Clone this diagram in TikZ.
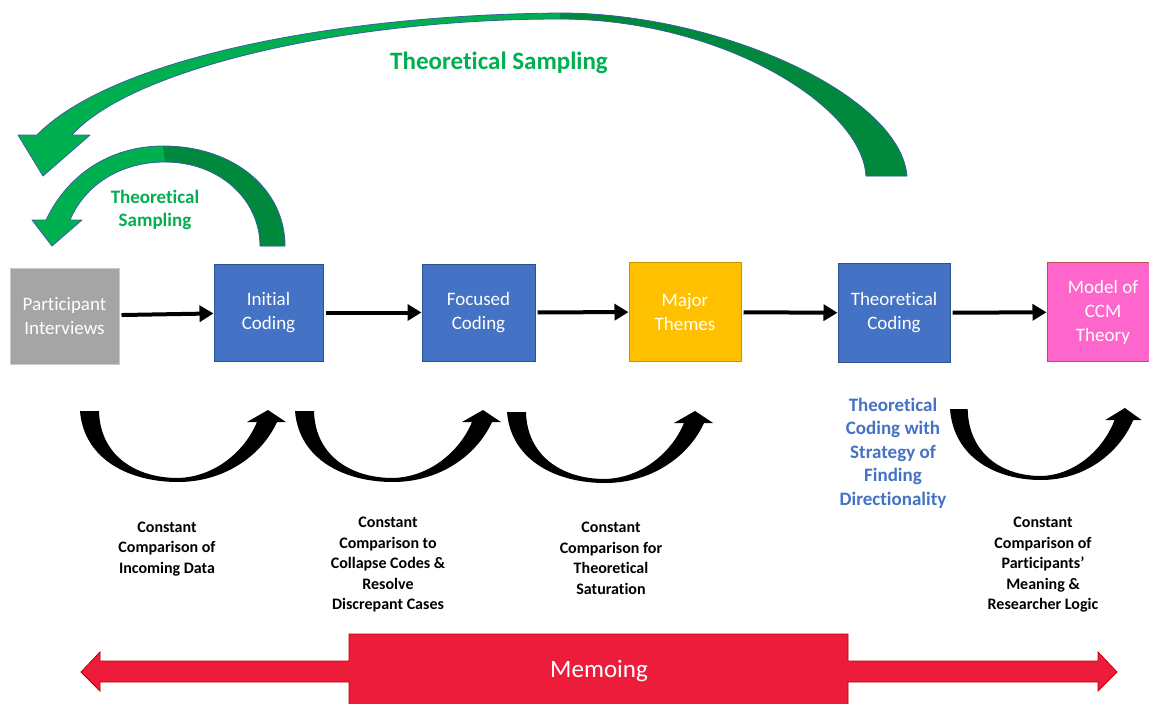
\documentclass[tikz,border=0pt]{standalone}
\usepackage{fontspec}
\setmainfont{Carlito}[Ligatures=NoCommon]
\usetikzlibrary{arrows.meta}
\definecolor{gboxc}{HTML}{A5A5A5}
\definecolor{gboxe}{HTML}{C9C9C9}
\definecolor{bboxc}{HTML}{4472C4}
\definecolor{bboxe}{HTML}{2F528F}
\definecolor{yboxc}{HTML}{FFC000}
\definecolor{yboxe}{HTML}{C59400}
\definecolor{pboxc}{HTML}{FF66CC}
\definecolor{pboxe}{HTML}{C0504D}
\definecolor{lgreen}{HTML}{00B050}
\definecolor{dgreen}{HTML}{00893C}
\definecolor{gedge}{HTML}{3A5FA0}
\definecolor{memoc}{HTML}{EE1C3B}
\definecolor{memoe}{HTML}{C00000}
\definecolor{bluetxt}{HTML}{4472C4}
\tikzset{
  stage/.style={minimum width=111pt, minimum height=97pt, inner sep=0pt, text=white,
    font=\fontsize{19}{24}\selectfont, align=center, line width=1pt},
  flow/.style={line width=4pt, -{Triangle[length=14pt,width=16pt]}, shorten <=2pt},
  cmp/.style={font=\bfseries\fontsize{16}{20.5}\selectfont, align=center, text=black, inner sep=0pt},
  bluecap/.style={font=\bfseries\fontsize{19}{23.5}\selectfont, align=center, text=bluetxt, inner sep=0pt},
  greencap/.style={font=\bfseries\fontsize{19}{23}\selectfont, align=center, text=lgreen, inner sep=0pt},
  uarrow/.pic={
    \fill[black] (0,0) .. controls (4,49) and (50,71) .. (98,71)
      .. controls (145,71) and (182,44) .. (197,11) -- (206,11) -- (188,-1) -- (167,11) -- (177,11)
      .. controls (165,40) and (135,66) .. (98,67) .. controls (55,67) and (20,44) .. (19,0) -- cycle;
  }
}
\begin{document}
\begin{tikzpicture}[x=1pt,y=-1pt]
\clip (0,0) rectangle (1149,704);
\fill[white] (0,0) rectangle (1149,704);

% big green curved arrow
\fill[lgreen] (37,135) .. controls (110,60) and (330,15) .. (560,13)
  .. controls (720,13) and (900,95) .. (907,176) -- (866,176)
  .. controls (862,105) and (720,19) .. (560,19)
  .. controls (340,19) and (130,70) .. (72,135) -- (90,135) -- (43,176) -- (18,135) -- cycle;
\fill[dgreen] (560,13) .. controls (720,13) and (900,95) .. (907,176) -- (866,176)
  .. controls (862,105) and (720,19) .. (560,19) -- cycle;
\draw[gedge, line width=0.8pt, line join=round] (37,135) .. controls (110,60) and (330,15) .. (560,13)
  .. controls (720,13) and (900,95) .. (907,176) -- (866,176)
  .. controls (862,105) and (720,19) .. (560,19)
  .. controls (340,19) and (130,70) .. (72,135) -- (90,135) -- (43,176) -- (18,135) -- cycle;

% small green curved arrow
\fill[lgreen] (46,220) .. controls (70,170) and (115,146) .. (163,146)
  .. controls (235,146) and (285,190) .. (285,246) -- (260,246)
  .. controls (260,200) and (220,162) .. (165,162)
  .. controls (120,162) and (85,185) .. (70,220) -- (82,220) -- (52,246) -- (32,220) -- cycle;
\fill[dgreen] (163,146) .. controls (235,146) and (285,190) .. (285,246) -- (260,246)
  .. controls (260,200) and (220,162) .. (165,162) -- cycle;
\draw[gedge, line width=0.8pt, line join=round] (46,220) .. controls (70,170) and (115,146) .. (163,146)
  .. controls (235,146) and (285,190) .. (285,246) -- (260,246)
  .. controls (260,200) and (220,162) .. (165,162)
  .. controls (120,162) and (85,185) .. (70,220) -- (82,220) -- (52,246) -- (32,220) -- cycle;

\node[font=\bfseries\fontsize{25}{30}\selectfont, text=lgreen, inner sep=0pt] (ts1) at (499,63) {Theoretical Sampling};
\node[greencap] (ts2) at (155,209.5) {Theoretical\\Sampling};

% stage boxes
\node[stage, fill=gboxc, draw=gboxe, minimum width=109pt, minimum height=96pt] (p) at (64.5,316) {Participant\\Interviews};
\node[stage, fill=bboxc, draw=bboxe, minimum width=109pt] (i) at (268.5,312.5) {Initial\\Coding};
\node[stage, fill=bboxc, draw=bboxe, minimum width=113pt] (f) at (478.5,312.5) {Focused\\Coding};
\node[stage, fill=yboxc, draw=yboxe, minimum width=112pt, minimum height=99pt] (m) at (685,312) {Major\\Themes};
\node[stage, fill=bboxc, draw=bboxe, minimum width=112pt, minimum height=99pt] (t) at (894,313) {Theoretical\\Coding};
\node[stage, fill=pboxc, draw=pboxe, minimum width=112pt, minimum height=99pt] (cc) at (1103,312) {Model of\\CCM\\Theory};

\draw[flow] (p) -- (i);
\draw[flow] (i) -- (f);
\draw[flow] (f) -- (m);
\draw[flow] (m) -- (t);
\draw[flow] (t) -- (cc);

% U-shaped constant comparison arrows
\pic at (80,411) {uarrow};
\pic at (295,411) {uarrow};
\pic at (507,412) {uarrow};
\pic[xscale=0.93] at (950,409) {uarrow};

\node[cmp] (c1) at (167,549) {Constant\\Comparison of\\Incoming Data};
\node[cmp] (c2) at (388,565) {Constant\\Comparison to\\Collapse Codes \&\\Resolve\\Discrepant Cases};
\node[cmp] (c3) at (611,558.5) {Constant\\Comparison for\\Theoretical\\Saturation};
\node[bluecap] (tcs) at (893,453) {Theoretical\\Coding with\\Strategy of\\Finding\\Directionality};
\node[cmp] (c4) at (1043,565) {Constant\\Comparison of\\Participants’\\Meaning \&\\Researcher Logic};

% Memoing double arrow
\filldraw[fill=memoc, draw=memoe, line width=0.8pt] (81,672) -- (100,652) -- (100,661) -- (349,661) -- (349,634)
  -- (848,634) -- (848,661) -- (1098,661) -- (1098,652) -- (1117,672) -- (1098,691) -- (1098,682)
  -- (848,682) -- (848,712) -- (349,712) -- (349,682) -- (100,682) -- (100,691) -- cycle;
\node[text=white, font=\fontsize{25}{30}\selectfont, inner sep=0pt] (memo) at (599,671) {Memoing};
\end{tikzpicture}
\end{document}
